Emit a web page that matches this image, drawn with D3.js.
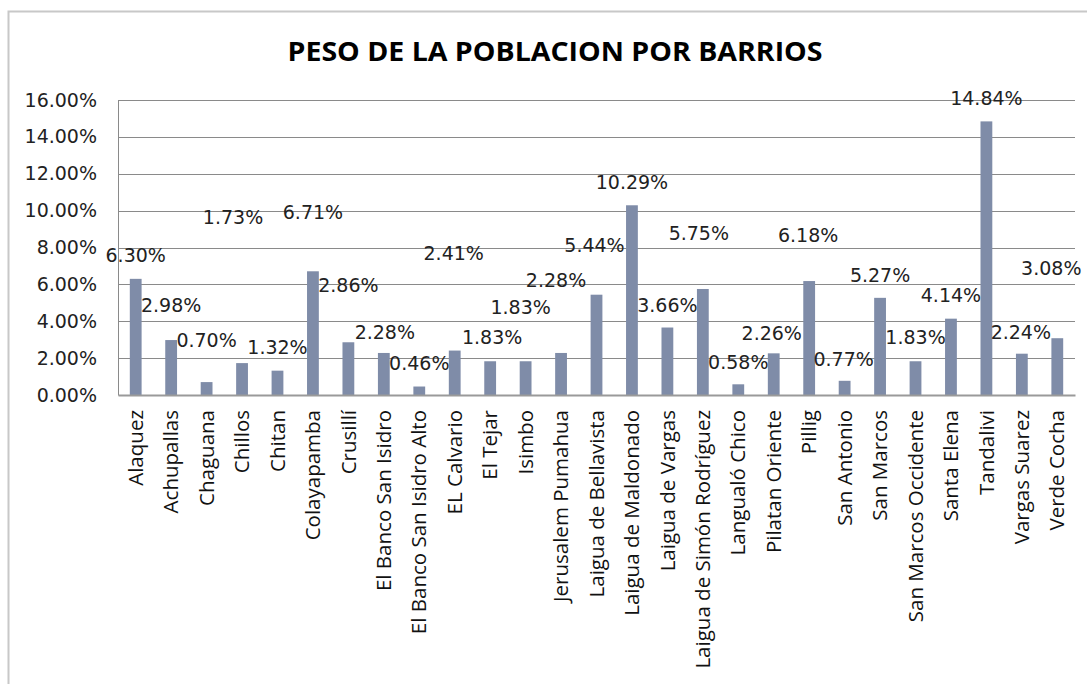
<!DOCTYPE html>
<html>
<head>
<meta charset="utf-8">
<script src="https://cdn.jsdelivr.net/npm/d3@7"></script>
<style>
  body { margin: 0; background: #fff; }
  svg { display: block; font-family: "Open Sans", sans-serif; }
</style>
</head>
<body>
<svg id="chart" width="1087" height="684"></svg>
<script>
// barrios and their share of population (%)
var barrios = ["Alaquez", "Achupallas", "Chaguana", "Chillos", "Chitan", "Colayapamba",
  "Crusillí", "El Banco San Isidro", "El Banco San Isidro Alto", "EL Calvario", "El Tejar",
  "Isimbo", "Jerusalem Pumahua", "Laigua de Bellavista", "Laigua de Maldonado",
  "Laigua de Vargas", "Laigua de Simón Rodríguez", "Langualó Chico", "Pilatan Oriente",
  "Pillig", "San Antonio", "San Marcos", "San Marcos Occidente", "Santa Elena",
  "Tandalivi", "Vargas Suarez", "Verde Cocha"];
var peso = [6.30, 2.98, 0.70, 1.73, 1.32, 6.71, 2.86, 2.28, 0.46, 2.41, 1.83, 1.83, 2.28,
  5.44, 10.29, 3.66, 5.75, 0.58, 2.26, 6.18, 0.77, 5.27, 1.83, 4.14, 14.84, 2.24, 3.08];
var yTicks = [0, 2, 4, 6, 8, 10, 12, 14, 16];

// where the (hand-moved) data labels sit, in axis units, and a small x nudge in px
var labelLevel = [7.59, 4.88, 2.98, 9.65, 2.60, 9.92, 5.97, 3.42, 1.74, 7.70, 3.15, 4.77, 6.24,
  8.13, 11.55, 4.88, 8.79, 1.79, 3.36, 8.68, 1.95, 6.51, 3.15, 5.42, 16.1, 3.42, 6.89];
var labelNudge = [0, 0, 0, -9, 0, 0, 0, 1, 0, -1, 2, -5, -5, -2, 0, 0, -4, 0, -2, -1, -1, 0, 0, 0, 0, -1, -6];

var svg = d3.select("#chart");
var plotLeft = 118, plotRight = 1075, plotTop = 100, plotBottom = 395;
var numFont = "'DejaVu Sans', sans-serif";

// outer chart border (only top and left visible in the crop)
svg.append("path")
  .attr("d", "M8.5,684 L8.5,11.5 L1087,11.5")
  .style("fill", "none")
  .style("stroke", "#c8c8c8")
  .style("stroke-width", 2);

var x = d3.scaleBand().domain(barrios).range([plotLeft, plotRight]).paddingInner(0.667).paddingOuter(0.333);
var y = d3.scaleLinear().domain([0, 16]).range([plotBottom, plotTop]);

// gridlines
svg.append("g").selectAll("line")
  .data(yTicks.slice(1))
  .enter().append("line")
  .attr("x1", plotLeft).attr("x2", plotRight)
  .attr("y1", function(d) { return Math.round(y(d)) + 0.5; })
  .attr("y2", function(d) { return Math.round(y(d)) + 0.5; })
  .style("stroke", "#8a8a8a")
  .style("stroke-width", 1);

// y axis
var yAxis = d3.axisLeft(y).tickValues(yTicks).tickSize(0).tickPadding(21)
  .tickFormat(function(d) { return d.toFixed(2) + "%"; });
var gy = svg.append("g").attr("transform", "translate(" + plotLeft + ",0)").call(yAxis);
gy.select(".domain").style("stroke", "#8a8a8a");
gy.selectAll("text").style("font-size", "19px").style("fill", "#222").style("font-family", numFont);

// bars
svg.append("g").selectAll("rect")
  .data(peso)
  .enter().append("rect")
  .attr("x", function(d, i) { return x(barrios[i]); })
  .attr("width", x.bandwidth())
  .attr("y", function(d) { return y(d); })
  .attr("height", function(d) { return y(0) - y(d); })
  .style("fill", "#7f8ca8");

// x axis
var xAxis = d3.axisBottom(x).tickSize(0).tickPadding(0);
var gx = svg.append("g").attr("transform", "translate(0," + plotBottom + ")").call(xAxis);
gx.select(".domain").style("stroke", "#9a9a9a").style("stroke-width", 2);
gx.selectAll("text")
  .attr("transform", "rotate(-90)")
  .attr("x", -15).attr("y", 0).attr("dy", "0.35em")
  .style("text-anchor", "end")
  .style("font-size", "20.5px")
  .style("fill", "#111")
  .style("font-family", "'Open Sans', sans-serif");

// data labels
svg.append("g").selectAll("text")
  .data(peso)
  .enter().append("text")
  .attr("x", function(d, i) { return x(barrios[i]) + x.bandwidth() / 2 + labelNudge[i]; })
  .attr("y", function(d, i) { return y(labelLevel[i]); })
  .attr("dy", "0.35em")
  .attr("text-anchor", "middle")
  .style("font-size", "19px")
  .style("font-family", numFont)
  .style("fill", "#222")
  .text(function(d) { return d.toFixed(2) + "%"; });

// title
svg.append("text")
  .attr("x", 555).attr("y", 61)
  .attr("text-anchor", "middle")
  .attr("textLength", 535)
  .attr("lengthAdjust", "spacingAndGlyphs")
  .style("font-size", "27px")
  .style("font-weight", "bold")
  .style("fill", "#000")
  .text("PESO DE LA POBLACION POR BARRIOS");
</script>
</body>
</html>
